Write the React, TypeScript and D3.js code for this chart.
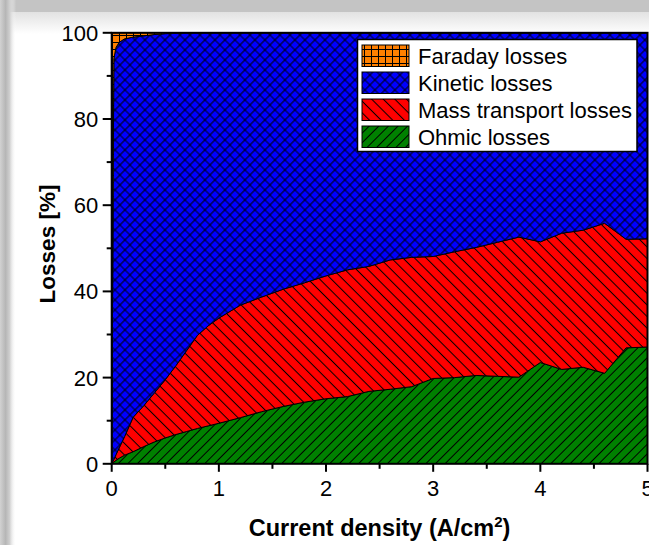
import React from "react";
import * as d3 from "d3";

// Current density sample points (A/cm²)
const currentDensity = [
  0, 0.02, 0.04, 0.07, 0.12, 0.2, 0.3, 0.4, 0.5, 0.6, 0.7, 0.8, 0.9, 1.0, 1.2, 1.4, 1.6, 1.8,
  2.0, 2.2, 2.4, 2.6, 2.8, 3.0, 3.2, 3.4, 3.6, 3.8, 4.0, 4.2, 4.4, 4.6, 4.8, 5.0,
];

// Share of each loss mechanism (%) at every sample point
const ohmicLosses = [
  0, 0.4, 0.8, 1.3, 2.0, 2.8, 4.0, 5.1, 6.0, 6.8, 7.5, 8.2, 8.8, 9.4, 10.7, 12.1, 13.3, 14.3,
  15.1, 15.6, 16.8, 17.3, 17.9, 19.8, 20.0, 20.5, 20.3, 20.1, 23.5, 21.9, 22.4, 21.0, 26.9, 27.1,
];
const massTransportLosses = [
  0, 0.6, 1.3, 2.4, 4.3, 8.0, 9.5, 11.4, 13.5, 16.0, 18.8, 21.6, 23.2, 24.4, 26.1, 26.6, 27.2, 27.7,
  28.5, 29.4, 29.0, 30.0, 30.0, 28.3, 29.2, 29.7, 31.1, 32.5, 28.0, 31.6, 31.8, 34.8, 25.2, 25.1,
];
const kineticLosses = [
  0, 93.0, 94.5, 94.1, 92.3, 88.2, 85.8, 83.1, 80.3, 77.1, 73.7, 70.2, 68.0, 66.2, 63.2, 61.3, 59.5, 58.0,
  56.4, 55.0, 54.2, 52.7, 52.1, 51.9, 50.8, 49.8, 48.6, 47.4, 48.5, 46.5, 45.8, 44.2, 47.9, 47.8,
];
const faradayLosses = [
  100, 6.0, 3.4, 2.2, 1.4, 1.0, 0.7, 0.4, 0.2, 0.1, 0, 0, 0, 0, 0, 0, 0, 0,
  0, 0, 0, 0, 0, 0, 0, 0, 0, 0, 0, 0, 0, 0, 0, 0,
];

const xTicks = [0, 1, 2, 3, 4, 5];
const yTicks = [0, 20, 40, 60, 80, 100];

const legendLabels = ["Faraday losses", "Kinetic losses", "Mass transport losses", "Ohmic losses"];

const W = 649;
const H = 545;
const LEFT = 111.7;
const RIGHT = 647.5;
const TOP = 32.8;
const BOTTOM = 463.8;
const FONT = "'Liberation Sans', Arial, Helvetica, sans-serif";

type Row = { j: number; ohmic: number; mass: number; kinetic: number; faraday: number };

const rows: Row[] = currentDensity.map((j, i) => ({
  j,
  ohmic: ohmicLosses[i],
  mass: massTransportLosses[i],
  kinetic: kineticLosses[i],
  faraday: faradayLosses[i],
}));

const keys = ["ohmic", "mass", "kinetic", "faraday"] as const;
const patternFor: Record<string, string> = {
  faraday: "url(#patFaraday)",
  kinetic: "url(#patKinetic)",
  mass: "url(#patMass)",
  ohmic: "url(#patOhmic)",
};
const legendKeys = ["faraday", "kinetic", "mass", "ohmic"];

export default function App() {
  const x = d3.scaleLinear().domain([0, 5]).range([LEFT, RIGHT]);
  const y = d3.scaleLinear().domain([0, 100]).range([BOTTOM, TOP]);

  const stacked = d3.stack<Row>().keys(keys as unknown as string[])(rows);
  const area = d3
    .area<d3.SeriesPoint<Row>>()
    .x((d) => x(d.data.j))
    .y0((d) => y(d[0]))
    .y1((d) => y(d[1]));

  const xMinor = d3.range(0, 5.01, 0.5).filter((v) => Math.abs(v - Math.round(v)) > 0.01);
  const yMinor = d3.range(10, 100, 20);

  return (
    <svg
      width={W}
      height={H}
      style={{ position: "absolute", left: 0, top: 0, display: "block" }}
      fontFamily={FONT}
    >
      <defs>
        <linearGradient id="panelTop" x1="0" y1="12" x2="0" y2="34" gradientUnits="userSpaceOnUse">
          <stop offset="0" stopColor="#e2e2e2" />
          <stop offset="1" stopColor="#ffffff" />
        </linearGradient>
        <linearGradient id="leftShade" x1="0" y1="0" x2="16" y2="0" gradientUnits="userSpaceOnUse">
          <stop offset="0" stopColor="#d2d2d2" />
          <stop offset="0.35" stopColor="#b6b6b6" />
          <stop offset="0.6" stopColor="#cfcfcf" />
          <stop offset="1" stopColor="#ffffff" stopOpacity="0" />
        </linearGradient>
        <pattern id="patFaraday" width="7" height="7" patternUnits="userSpaceOnUse">
          <rect width="7" height="7" fill="#ff8000" />
          <path d="M0,0.5H7M0.5,0V7" stroke="#000" strokeWidth="1" />
        </pattern>
        <pattern
          id="patKinetic"
          width="7.07"
          height="7.07"
          patternUnits="userSpaceOnUse"
          patternTransform="rotate(45)"
        >
          <rect width="7.07" height="7.07" fill="#0000ff" />
          <path d="M0,3.5H7.07M3.5,0V7.07" stroke="#000" strokeWidth="1" />
        </pattern>
        <pattern
          id="patMass"
          width="8.2"
          height="8.2"
          patternUnits="userSpaceOnUse"
          patternTransform="rotate(45)"
        >
          <rect width="8.2" height="8.2" fill="#ff0000" />
          <path d="M0,4.1H8.2" stroke="#000" strokeWidth="1" />
        </pattern>
        <pattern
          id="patOhmic"
          width="6.8"
          height="6.8"
          patternUnits="userSpaceOnUse"
          patternTransform="rotate(-45)"
        >
          <rect width="6.8" height="6.8" fill="#008000" />
          <path d="M0,3.4H6.8" stroke="#000" strokeWidth="1" />
        </pattern>
        <clipPath id="plotClip">
          <rect x={LEFT} y={TOP} width={RIGHT - LEFT} height={BOTTOM - TOP} />
        </clipPath>
      </defs>

      {/* window frame */}
      <rect width={W} height={H} fill="#c4c4c4" />
      <rect x={10} y={12} width={W - 10} height={H - 12} fill="url(#panelTop)" />
      <rect x={0} y={0} width={16} height={H} fill="url(#leftShade)" />

      {/* stacked areas */}
      <g clipPath="url(#plotClip)">
        {stacked.map((s) => (
          <path
            key={s.key}
            d={area(s) ?? ""}
            fill={patternFor[s.key]}
            stroke="#000"
            strokeWidth={1}
            strokeLinejoin="round"
          />
        ))}
      </g>

      {/* frame */}
      <rect
        x={LEFT}
        y={TOP}
        width={RIGHT - LEFT}
        height={BOTTOM - TOP}
        fill="none"
        stroke="#000"
        strokeWidth={2}
      />

      {/* x axis ticks */}
      {xTicks.map((t) => (
        <g key={"xt" + t}>
          <line x1={x(t)} x2={x(t)} y1={BOTTOM} y2={BOTTOM + 8} stroke="#000" strokeWidth={2} />
          <text x={x(t)} y={496} fontSize={22} textAnchor="middle" fill="#000">
            {t}
          </text>
        </g>
      ))}
      {xMinor.map((t) => (
        <line key={"xm" + t} x1={x(t)} x2={x(t)} y1={BOTTOM} y2={BOTTOM + 5} stroke="#000" strokeWidth={2} />
      ))}

      {/* y axis ticks */}
      {yTicks.map((t) => (
        <g key={"yt" + t}>
          <line x1={LEFT - 9} x2={LEFT} y1={y(t)} y2={y(t)} stroke="#000" strokeWidth={2} />
          <text x={LEFT - 13.5} y={y(t)} dy="0.36em" fontSize={22} textAnchor="end" fill="#000">
            {t}
          </text>
        </g>
      ))}
      {yMinor.map((t) => (
        <line key={"ym" + t} x1={LEFT - 5} x2={LEFT} y1={y(t)} y2={y(t)} stroke="#000" strokeWidth={2} />
      ))}

      {/* axis titles */}
      <text
        x={(LEFT + RIGHT) / 2}
        y={536}
        fontSize={23.5}
        fontWeight="bold"
        textAnchor="middle"
        fill="#000"
      >
        Current density (A/cm
        <tspan fontSize={15} dy={-9}>
          2
        </tspan>
        <tspan dy={9}>)</tspan>
      </text>
      <text
        transform={`translate(55,244) rotate(-90)`}
        fontSize={22.5}
        fontWeight="bold"
        textAnchor="middle"
        fill="#000"
      >
        Losses [%]
      </text>

      {/* legend */}
      <rect x={357.5} y={39.5} width={279.5} height={112} fill="#fff" stroke="#000" strokeWidth={1.5} />
      {legendKeys.map((k, i) => (
        <g key={"lg" + k}>
          <rect
            x={362}
            y={45 + i * 27}
            width={47}
            height={21.5}
            fill={patternFor[k]}
            stroke="#000"
            strokeWidth={1}
          />
          <text x={418} y={63.5 + i * 27.1} fontSize={22} fill="#000">
            {legendLabels[i]}
          </text>
        </g>
      ))}
    </svg>
  );
}
